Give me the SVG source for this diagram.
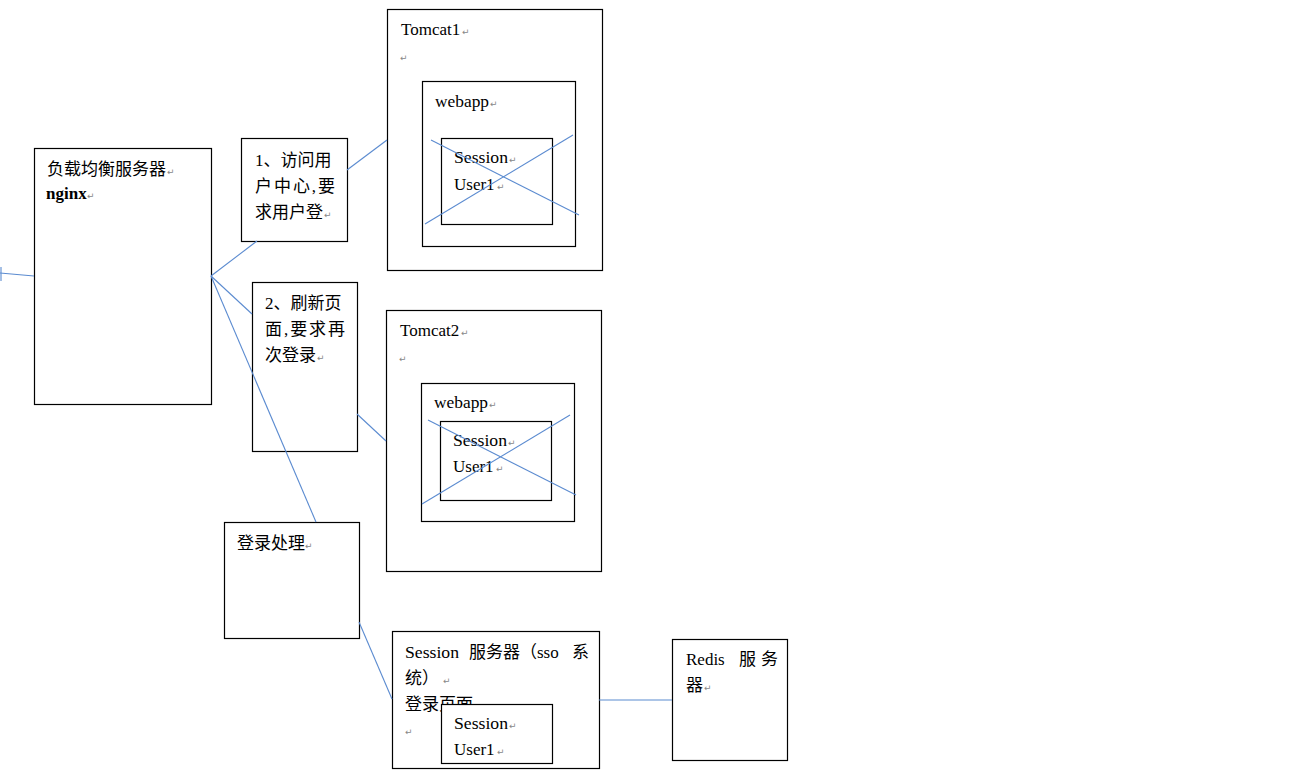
<svg xmlns="http://www.w3.org/2000/svg" width="1310" height="780" viewBox="0 0 1310 780">
<style>
.box{fill:#fff;stroke:#000;stroke-width:1.2}
.t{font-family:"Liberation Serif","Noto Sans CJK SC",serif;font-size:17px;fill:#000}
.b{font-weight:bold}
.r{font-family:"DejaVu Sans",sans-serif;font-size:9px;fill:#888}
.c line{stroke:#5B8BD0;stroke-width:1.1}
.x{stroke:#5B8BD0;stroke-width:1.1}
</style>
<rect width="1310" height="780" fill="#fff"/>
<g id="nginx">
<rect class="box" x="34.5" y="148.5" width="177" height="256"/>
<text class="t" x="47" y="175" textLength="119" lengthAdjust="spacingAndGlyphs">负载均衡服务器</text><text class="r" x="167" y="175">↵</text>
<text class="t b" x="46" y="199">nginx</text><text class="r" x="87" y="199">↵</text>
</g>
<g id="step1">
<rect class="box" x="241.5" y="138.5" width="106" height="103"/>
<text class="t" x="255" y="166">1、访问用</text>
<text class="t" x="255" y="192" textLength="80" lengthAdjust="spacing">户中心,要</text>
<text class="t" x="255" y="218">求用户登</text><text class="r" x="324" y="218">↵</text>
</g>
<g id="step2">
<rect class="box" x="252.5" y="282.5" width="105" height="169"/>
<text class="t" x="265" y="309">2、刷新页</text>
<text class="t" x="265" y="335" textLength="80" lengthAdjust="spacing">面,要求再</text>
<text class="t" x="265" y="361">次登录</text><text class="r" x="317" y="361">↵</text>
</g>
<g id="login">
<rect class="box" x="224.5" y="522.5" width="135" height="116"/>
<text class="t" x="237" y="549">登录处理</text><text class="r" x="305" y="549">↵</text>
</g>
<g id="tomcat1">
<rect class="box" x="387.5" y="9.5" width="215" height="261"/>
<text class="t" x="401" y="35">Tomcat1</text><text class="r" x="462" y="35">↵</text>
<text class="r" x="400" y="61">↵</text>
<rect class="box" x="422.5" y="81.5" width="153" height="165"/>
<text class="t" x="435" y="107" textLength="54" lengthAdjust="spacingAndGlyphs">webapp</text><text class="r" x="490" y="107">↵</text>
<rect class="box" x="441.5" y="138.5" width="111" height="86"/>
<text class="t" x="454" y="163" textLength="54" lengthAdjust="spacingAndGlyphs">Session</text><text class="r" x="509" y="163">↵</text>
<text class="t" x="454" y="190">User1</text><text class="r" x="497" y="190">↵</text>
<line class="x" x1="431" y1="140" x2="579" y2="215"/>
<line class="x" x1="425" y1="224" x2="573" y2="135"/>
</g>
<g id="tomcat2">
<rect class="box" x="386.5" y="310.5" width="215" height="261"/>
<text class="t" x="400" y="336">Tomcat2</text><text class="r" x="461" y="336">↵</text>
<text class="r" x="399" y="362">↵</text>
<rect class="box" x="421.5" y="383.5" width="153" height="138"/>
<text class="t" x="434" y="408" textLength="54" lengthAdjust="spacingAndGlyphs">webapp</text><text class="r" x="489" y="408">↵</text>
<rect class="box" x="440.5" y="421.5" width="111" height="79"/>
<text class="t" x="453" y="446" textLength="54" lengthAdjust="spacingAndGlyphs">Session</text><text class="r" x="508" y="446">↵</text>
<text class="t" x="453" y="472">User1</text><text class="r" x="496" y="472">↵</text>
<line class="x" x1="428" y1="420" x2="576" y2="495"/>
<line class="x" x1="422" y1="504" x2="570" y2="415"/>
</g>
<g id="session-server">
<rect class="box" x="392.5" y="631.5" width="207" height="137"/>
<text class="t" x="405" y="658" textLength="54" lengthAdjust="spacingAndGlyphs">Session</text>
<text class="t" x="469" y="658">服务器（sso</text>
<text class="t" x="572" y="658">系</text>
<text class="t" x="405" y="684">统）</text><text class="r" x="443" y="684">↵</text>
<text class="t" x="405" y="710">登录页面</text><text class="r" x="473" y="710">↵</text>
<text class="r" x="405" y="735">↵</text>
<rect class="box" x="441.5" y="704.5" width="111" height="59"/>
<text class="t" x="454" y="729" textLength="54" lengthAdjust="spacingAndGlyphs">Session</text><text class="r" x="509" y="729">↵</text>
<text class="t" x="454" y="755">User1</text><text class="r" x="497" y="755">↵</text>
</g>
<g id="redis">
<rect class="box" x="672.5" y="639.5" width="115" height="121"/>
<text class="t" x="686" y="665">Redis</text>
<text class="t" x="739" y="665">服</text>
<text class="t" x="761" y="665">务</text>
<text class="t" x="686" y="691">器</text><text class="r" x="704" y="691">↵</text>
</g>
<g class="c" id="connectors">
<line x1="0" y1="273" x2="34" y2="276"/>
<line x1="1" y1="267" x2="1" y2="281"/>
<line x1="211" y1="276" x2="257" y2="241"/>
<line x1="347" y1="170" x2="387" y2="140"/>
<line x1="211" y1="276" x2="252" y2="314"/>
<line x1="211" y1="276" x2="316" y2="522"/>
<line x1="357" y1="414" x2="386" y2="441"/>
<line x1="359" y1="622" x2="392" y2="699"/>
<line x1="599" y1="700" x2="672" y2="700"/>
</g>
</svg>
